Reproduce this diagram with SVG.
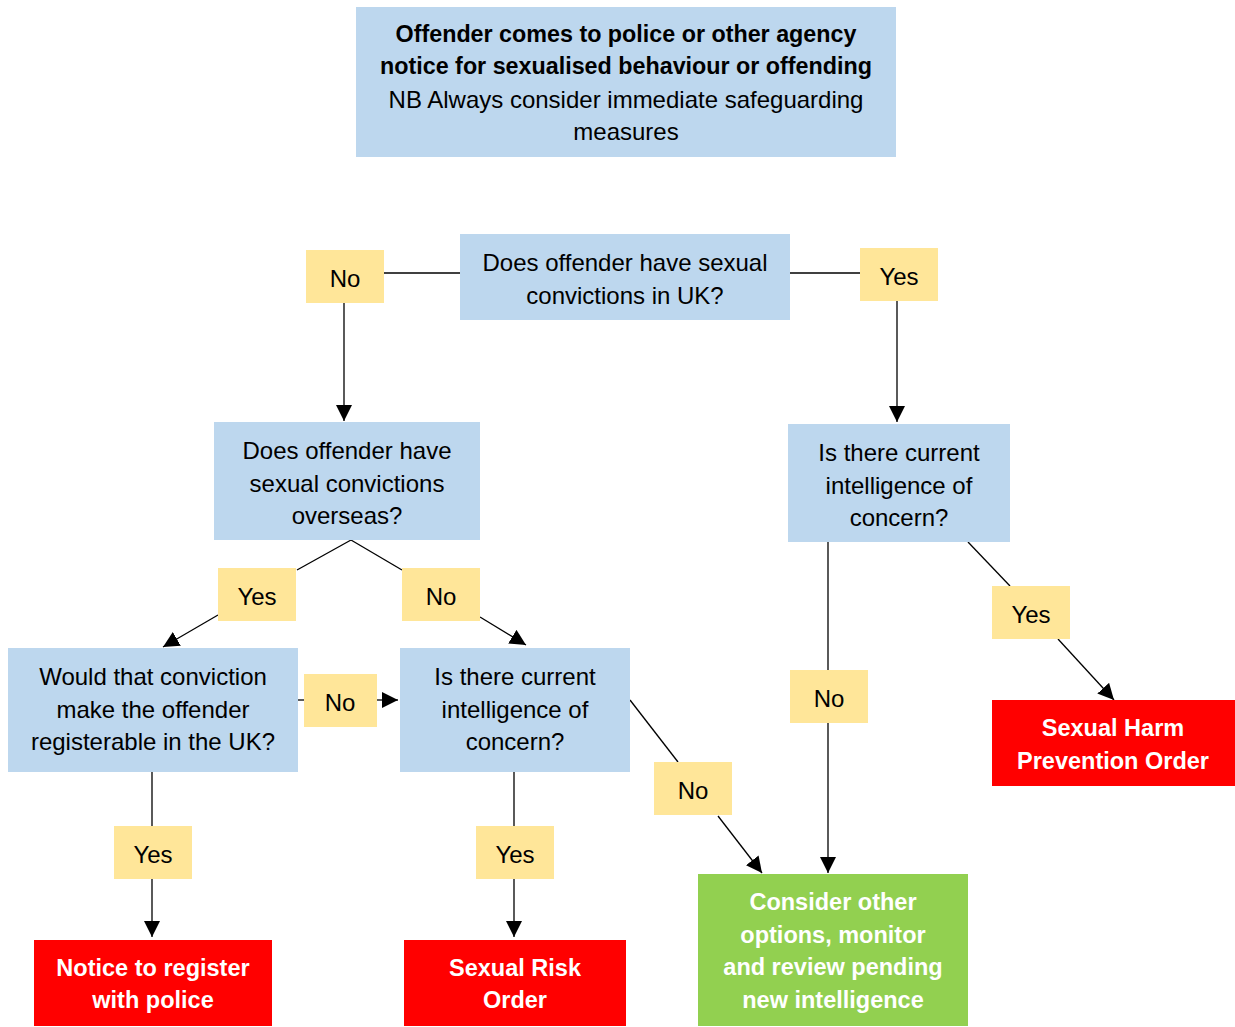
<svg xmlns="http://www.w3.org/2000/svg" width="1235" height="1027" viewBox="0 0 1235 1027">
<style>
.q{fill:#BDD7EE}
.l{fill:#FFE699}
.r{fill:#FF0000}
.g{fill:#92D050}
text{font-family:"Liberation Sans",Arial,sans-serif;font-size:24px;text-anchor:middle;dominant-baseline:central;fill:#000}
.w{fill:#fff;font-weight:bold;font-size:23.5px}
.b{font-weight:bold;font-size:23.3px}
.c line{stroke:#000;stroke-width:1.3}
</style>
<defs>
<marker id="ah" viewBox="0 0 10 10" refX="10" refY="5" markerWidth="16" markerHeight="16" markerUnits="userSpaceOnUse" orient="auto"><path d="M0,0L10,5L0,10z" fill="#000"/></marker>
</defs>
<g class="c">
<line x1="384" y1="273" x2="460" y2="273"/>
<line x1="790" y1="273" x2="860" y2="273"/>
<line x1="344" y1="303" x2="344" y2="421" marker-end="url(#ah)"/>
<line x1="897" y1="301" x2="897" y2="422" marker-end="url(#ah)"/>
<line x1="351" y1="540" x2="297" y2="570"/>
<line x1="218" y1="615" x2="163" y2="647" marker-end="url(#ah)"/>
<line x1="351" y1="540" x2="402" y2="570"/>
<line x1="480" y1="617" x2="526" y2="645" marker-end="url(#ah)"/>
<line x1="298" y1="700" x2="304" y2="700"/>
<line x1="376" y1="700" x2="398" y2="700" marker-end="url(#ah)"/>
<line x1="152" y1="772" x2="152" y2="826"/>
<line x1="152" y1="879" x2="152" y2="937" marker-end="url(#ah)"/>
<line x1="514" y1="772" x2="514" y2="826"/>
<line x1="514" y1="879" x2="514" y2="937" marker-end="url(#ah)"/>
<line x1="630" y1="700" x2="678" y2="762"/>
<line x1="718" y1="816" x2="762" y2="873" marker-end="url(#ah)"/>
<line x1="828" y1="542" x2="828" y2="670"/>
<line x1="828" y1="723" x2="828" y2="873" marker-end="url(#ah)"/>
<line x1="968" y1="542" x2="1010" y2="586"/>
<line x1="1058" y1="639" x2="1114" y2="700" marker-end="url(#ah)"/>
</g>
<g id="start"><rect class="q" x="356" y="7" width="540" height="150"/>
<text x="626" y="34" class="b">Offender comes to police or other agency</text>
<text x="626" y="66" class="b">notice for sexualised behaviour or offending</text>
<text x="626" y="99">NB Always consider immediate safeguarding</text>
<text x="626" y="131">measures</text></g>
<g id="q1"><rect class="q" x="460" y="234" width="330" height="86"/>
<text x="625" y="262">Does offender have sexual</text>
<text x="625" y="295">convictions in UK?</text></g>
<g id="l1"><rect class="l" x="306" y="250" width="78" height="53"/><text x="345" y="278">No</text></g>
<g id="l2"><rect class="l" x="860" y="248" width="78" height="53"/><text x="899" y="276">Yes</text></g>
<g id="q2"><rect class="q" x="214" y="422" width="266" height="118"/>
<text x="347" y="450">Does offender have</text>
<text x="347" y="483">sexual convictions</text>
<text x="347" y="515">overseas?</text></g>
<g id="q3"><rect class="q" x="788" y="424" width="222" height="118"/>
<text x="899" y="452">Is there current</text>
<text x="899" y="485">intelligence of</text>
<text x="899" y="517">concern?</text></g>
<g id="l3"><rect class="l" x="218" y="568" width="78" height="53"/><text x="257" y="596">Yes</text></g>
<g id="l4"><rect class="l" x="402" y="568" width="78" height="53"/><text x="441" y="596">No</text></g>
<g id="q4"><rect class="q" x="8" y="648" width="290" height="124"/>
<text x="153" y="676">Would that conviction</text>
<text x="153" y="709">make the offender</text>
<text x="153" y="741">registerable in the UK?</text></g>
<g id="l5"><rect class="l" x="304" y="674" width="73" height="53"/><text x="340" y="702">No</text></g>
<g id="q5"><rect class="q" x="400" y="648" width="230" height="124"/>
<text x="515" y="676">Is there current</text>
<text x="515" y="709">intelligence of</text>
<text x="515" y="741">concern?</text></g>
<g id="l6"><rect class="l" x="790" y="670" width="78" height="53"/><text x="829" y="698">No</text></g>
<g id="l7"><rect class="l" x="992" y="586" width="78" height="53"/><text x="1031" y="614">Yes</text></g>
<g id="l8"><rect class="l" x="654" y="762" width="78" height="53"/><text x="693" y="790">No</text></g>
<g id="l9"><rect class="l" x="114" y="826" width="78" height="53"/><text x="153" y="854">Yes</text></g>
<g id="l10"><rect class="l" x="476" y="826" width="78" height="53"/><text x="515" y="854">Yes</text></g>
<g id="shpo"><rect class="r" x="992" y="700" width="243" height="86"/>
<text class="w" x="1113" y="728">Sexual Harm</text>
<text class="w" x="1113" y="761">Prevention Order</text></g>
<g id="notice"><rect class="r" x="34" y="940" width="238" height="86"/>
<text class="w" x="153" y="968">Notice to register</text>
<text class="w" x="153" y="1000">with police</text></g>
<g id="sro"><rect class="r" x="404" y="940" width="222" height="86"/>
<text class="w" x="515" y="968">Sexual Risk</text>
<text class="w" x="515" y="1000">Order</text></g>
<g id="consider"><rect class="g" x="698" y="874" width="270" height="152"/>
<text class="w" x="833" y="902">Consider other</text>
<text class="w" x="833" y="935">options, monitor</text>
<text class="w" x="833" y="967">and review pending</text>
<text class="w" x="833" y="1000">new intelligence</text></g>
</svg>
